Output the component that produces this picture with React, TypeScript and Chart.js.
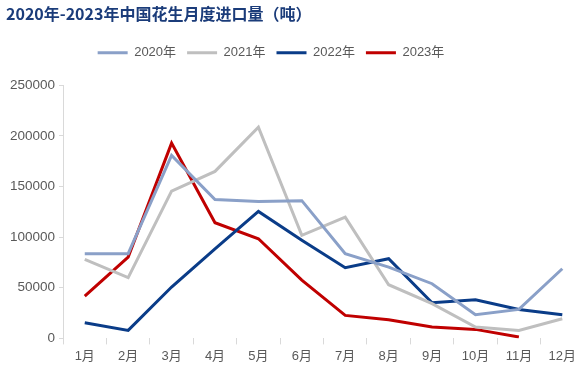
import React, { useEffect, useRef } from "react";
import { Chart, registerables } from "chart.js";

Chart.register(...registerables);

const months = ["1月", "2月", "3月", "4月", "5月", "6月", "7月", "8月", "9月", "10月", "11月", "12月"];
const y2020 = [83600, 83600, 180600, 137200, 135200, 136000, 83600, 70400, 54000, 23400, 28600, 68800];
const y2021 = [78000, 60000, 145400, 164900, 208600, 101700, 119700, 53000, 34300, 11200, 7900, 19400];
const y2022 = [15500, 7900, 50700, 88500, 125400, 97000, 69800, 78700, 35200, 38200, 28600, 23400];
const y2023 = [41800, 80300, 192800, 114200, 98400, 57500, 22700, 18400, 11200, 8900, 1300];
const yTicks = [0, 50000, 100000, 150000, 200000, 250000];

const FONT = '"Liberation Sans", "Noto Sans CJK SC", sans-serif';

const legendMargin = {
  id: "legendMargin",
  beforeInit(chart: any) {
    const fit = chart.legend.fit;
    chart.legend.fit = function () {
      fit.bind(chart.legend)();
      this.height += 16;
    };
  },
  afterLayout(chart: any) {
    chart.legend.left -= 24;
    chart.legend.right -= 24;
  },
};

export default function App() {
  const ref = useRef<HTMLCanvasElement>(null);
  useEffect(() => {
    document.body.style.margin = "0";
    const ds = (label: string, data: number[], color: string) => ({
      label,
      data,
      borderColor: color,
      backgroundColor: color,
      borderWidth: 3,
      pointRadius: 0,
      tension: 0,
      fill: false,
    });
    const chart = new Chart(ref.current!, {
      type: "line",
      data: {
        labels: months,
        datasets: [
          ds("2020年", y2020, "#8AA0C8"),
          ds("2021年", y2021, "#BFBFBF"),
          ds("2022年", y2022, "#0A3C88"),
          ds("2023年", y2023, "#C00000"),
        ],
      },
      options: {
        animation: false,
        responsive: false,
        layout: { padding: { left: 6, right: 0, top: 0, bottom: 2 } },
        plugins: {
          title: {
            display: true,
            text: "2020年-2023年中国花生月度进口量（吨）",
            align: "start",
            color: "#1B3C7A",
            font: { family: '"Noto Sans CJK SC", sans-serif', size: 16, weight: "bold" },
            padding: { top: 4, bottom: 12 },
          },
          legend: {
            display: true,
            labels: {
              usePointStyle: true,
              pointStyle: "line",
              pointStyleWidth: 30,
              boxHeight: 3,
              color: "#595959",
              font: { family: FONT, size: 13 },
              padding: 11,
            },
          },
          tooltip: { enabled: false },
        },
        scales: {
          x: {
            offset: true,
            grid: { display: true, drawOnChartArea: false, offset: true, tickLength: 6, color: "#D9D9D9" },
            border: { display: false },
            ticks: { color: "#595959", font: { family: FONT, size: 13 }, padding: 4, maxRotation: 0 },
          },
          y: {
            min: 0,
            max: 250000,
            afterBuildTicks: (axis: any) => {
              axis.ticks = yTicks.map((v) => ({ value: v }));
            },
            grid: { display: true, drawOnChartArea: false, tickLength: 4, color: "#D9D9D9" },
            border: { display: true, color: "#D9D9D9" },
            ticks: {
              color: "#595959",
              font: { family: FONT, size: 13.5 },
              padding: 4,
              callback: (v: any) => String(v),
            },
          },
        },
      },
      plugins: [legendMargin],
    });
    return () => chart.destroy();
  }, []);
  return <canvas ref={ref} width={584} height={370} style={{ display: "block" }} />;
}
